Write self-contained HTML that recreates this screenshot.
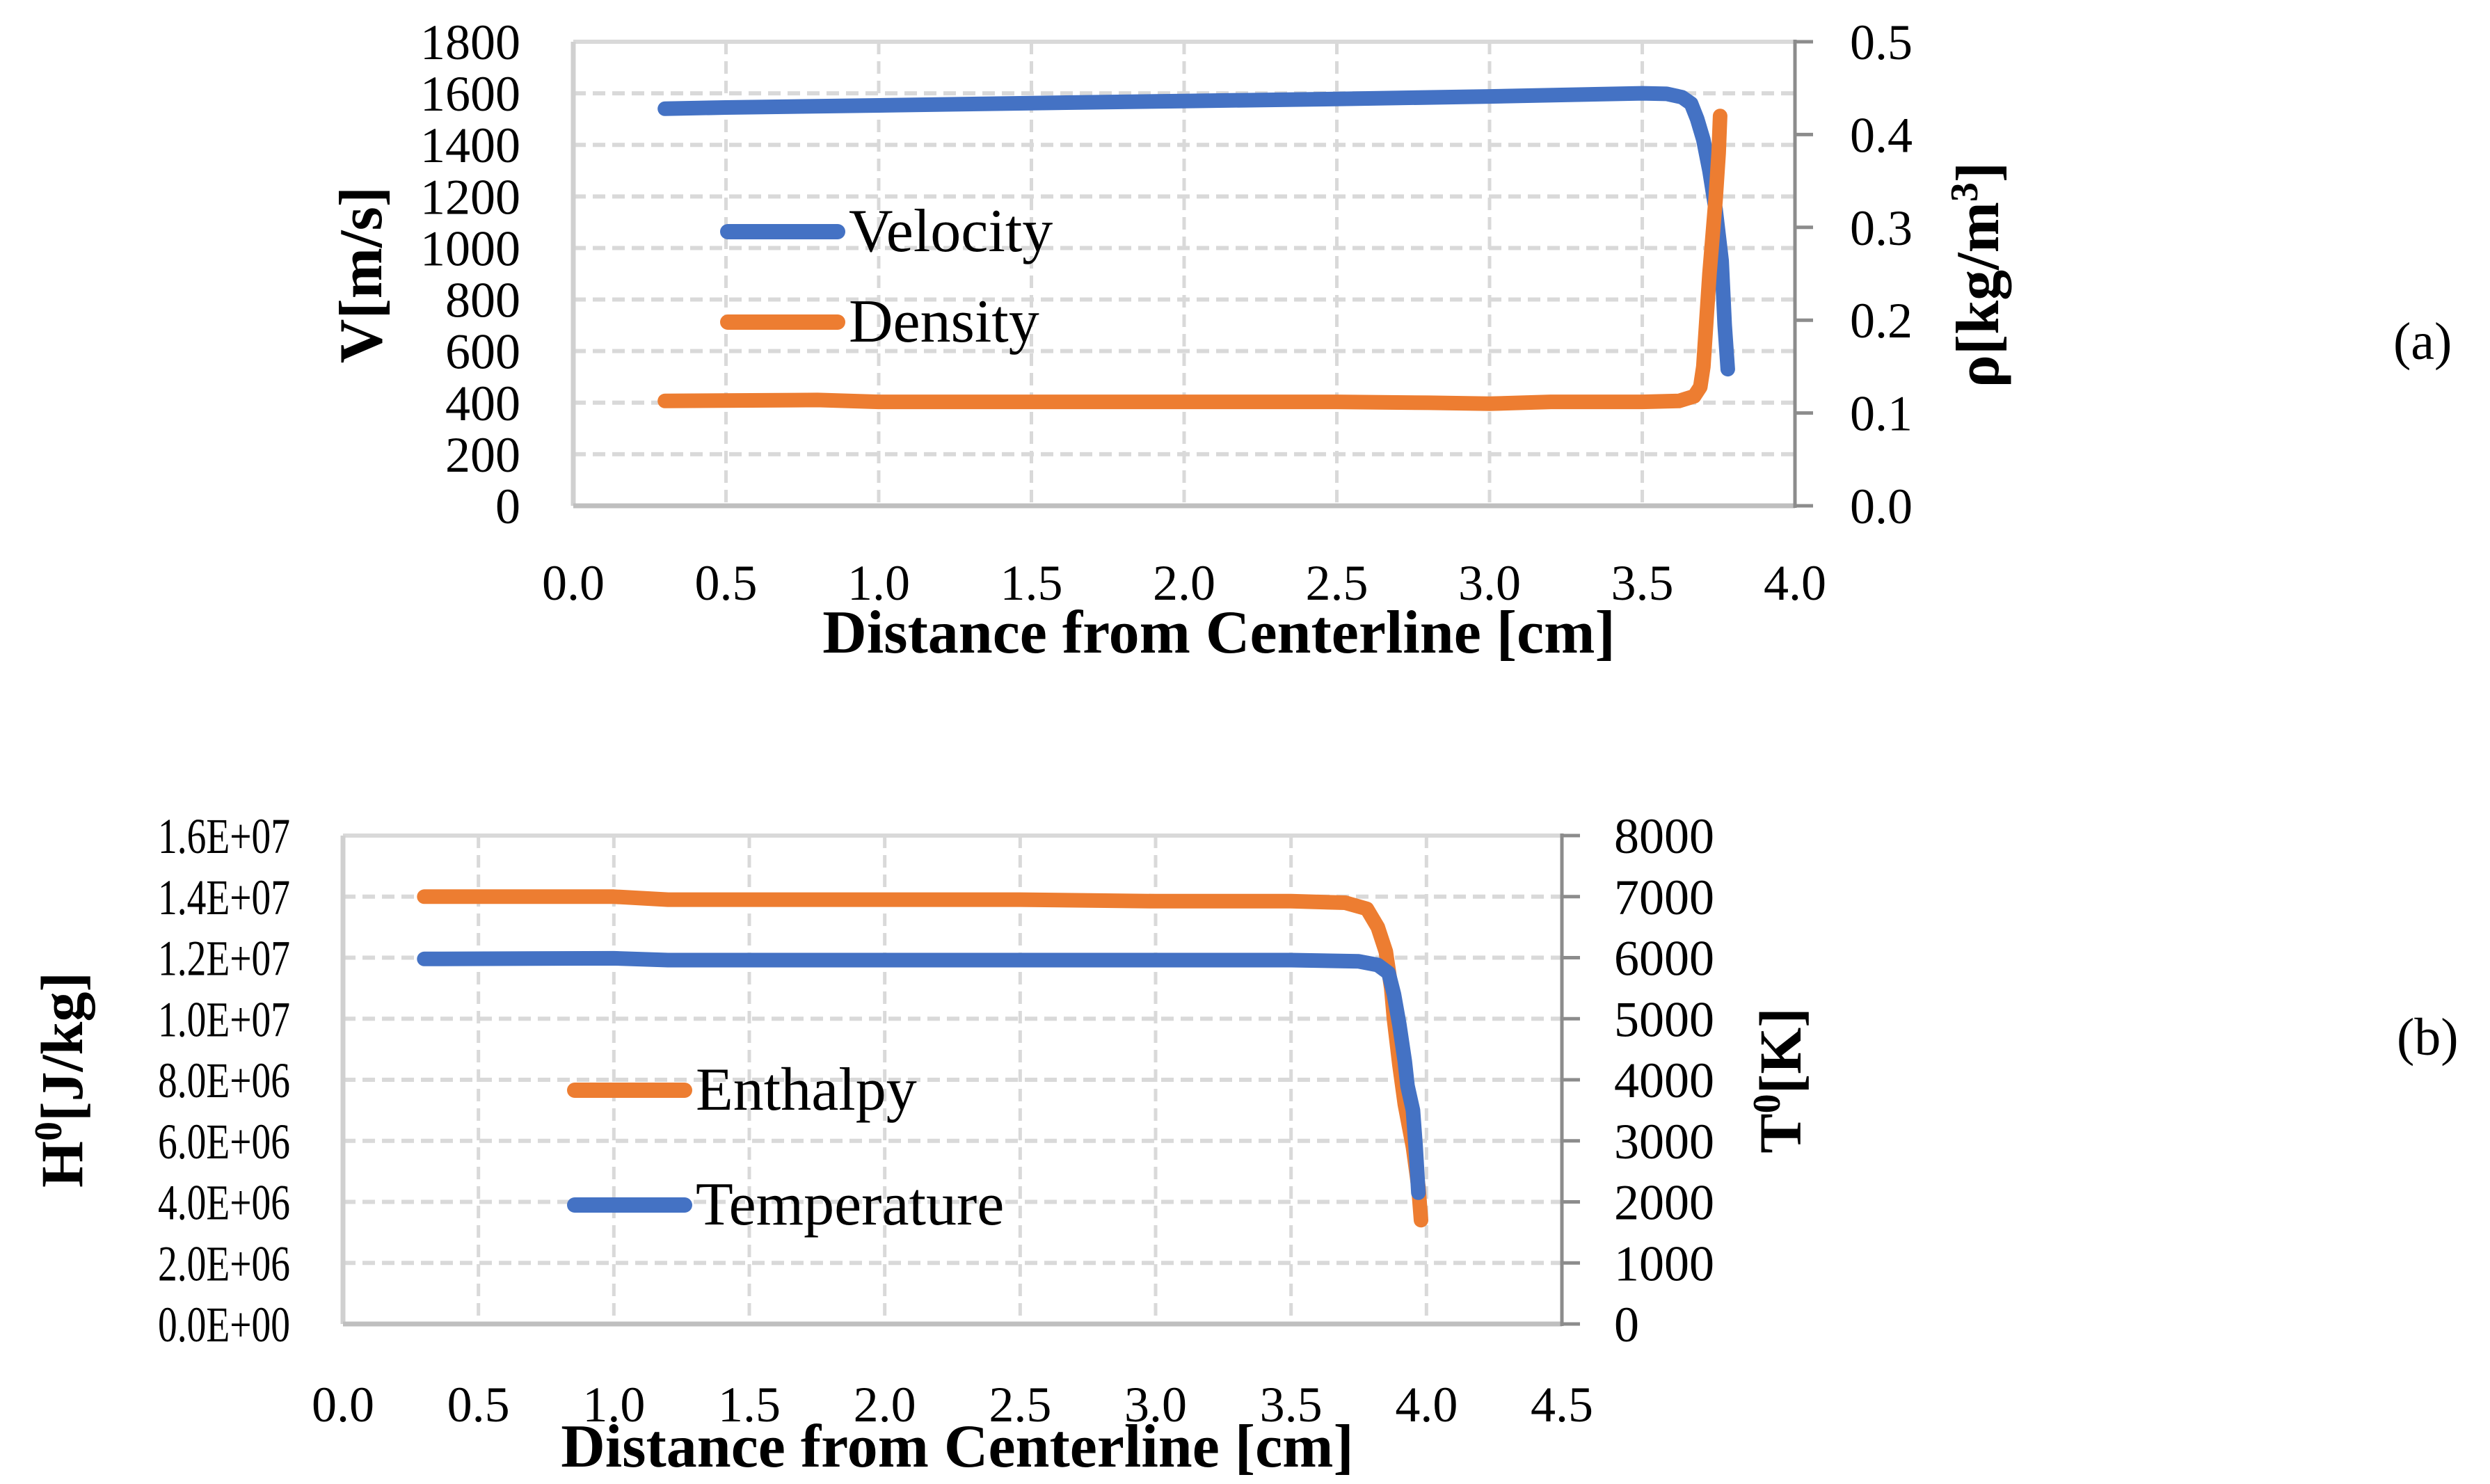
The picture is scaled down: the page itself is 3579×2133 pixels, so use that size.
<!DOCTYPE html>
<html><head><meta charset="utf-8"><style>
body{margin:0;background:#fff}
svg{display:block}
text{font-family:"Liberation Serif",serif;fill:#000}
</style></head><body>
<svg id="s" width="3579" height="2133" viewBox="0 0 3579 2133" xmlns="http://www.w3.org/2000/svg">
<g id="ca"></g>
<g id="cb"></g>
</svg>
<script>
// Chart (a)
const aVelX=[0.3,0.5,1.0,1.5,2.0,2.5,3.0,3.5,3.58,3.63,3.66,3.68,3.70,3.72,3.74,3.76,3.77,3.78];
const aVelY=[1540,1545,1553,1562,1570,1578,1588,1600,1598,1585,1560,1500,1420,1300,1150,950,700,530];
const aDenX=[0.3,0.8,1.0,1.5,2.0,2.5,2.8,3.0,3.2,3.5,3.62,3.67,3.69,3.70,3.71,3.72,3.73,3.74,3.75,3.755];
const aDenY=[0.113,0.114,0.112,0.112,0.112,0.112,0.111,0.110,0.112,0.112,0.113,0.118,0.128,0.15,0.20,0.25,0.29,0.33,0.38,0.42];
const aXTicks=["0.0","0.5","1.0","1.5","2.0","2.5","3.0","3.5","4.0"];
const aYTicks=["0","200","400","600","800","1000","1200","1400","1600","1800"];
const aY2Ticks=["0.0","0.1","0.2","0.3","0.4","0.5"];
// Chart (b)
const bEntX=[0.3,1.0,1.2,2.0,2.5,3.0,3.5,3.7,3.78,3.82,3.85,3.87,3.88,3.90,3.92,3.95,3.97,3.98];
const bEntY=[1.40e7,1.40e7,1.39e7,1.39e7,1.39e7,1.385e7,1.385e7,1.38e7,1.36e7,1.30e7,1.22e7,1.10e7,1.0e7,8.5e6,7.2e6,5.8e6,4.5e6,3.4e6];
const bTmpX=[0.3,1.0,1.2,2.0,2.5,3.0,3.5,3.75,3.82,3.86,3.88,3.90,3.92,3.93,3.95,3.96,3.97];
const bTmpY=[5980,5990,5960,5960,5960,5960,5960,5940,5880,5750,5400,4900,4300,3900,3500,2900,2150];
const bXTicks=["0.0","0.5","1.0","1.5","2.0","2.5","3.0","3.5","4.0","4.5"];
const bYTicks=["0.0E+00","2.0E+06","4.0E+06","6.0E+06","8.0E+06","1.0E+07","1.2E+07","1.4E+07","1.6E+07"];
const bY2Ticks=["0","1000","2000","3000","4000","5000","6000","7000","8000"];

const NS="http://www.w3.org/2000/svg";
function mk(p,tag,attrs,txt){const e=document.createElementNS(NS,tag);for(const k in attrs)e.setAttribute(k,attrs[k]);if(txt!==undefined)e.textContent=txt;p.appendChild(e);return e;}

function chart(g,cfg){
  const {L,R,T,B,xmax,ymax,y2max,xt,yt,y2t}=cfg;
  const sx=v=>L+(R-L)*v/xmax, sy=v=>B-(B-T)*v/ymax, sy2=v=>B-(B-T)*v/y2max;
  for(let i=1;i<yt.length;i++){const y=B-(B-T)*i/(yt.length-1);
    const l=mk(g,'line',{x1:L,x2:R,y1:y,y2:y,stroke:'#d9d9d9','stroke-width':6,'stroke-dasharray':i==yt.length-1?'none':'18 10'});
    
    }
  for(let i=1;i<xt.length-1;i++){const x=L+(R-L)*i/(xt.length-1);
    const l=mk(g,'line',{x1:x,x2:x,y1:T,y2:B,stroke:'#d9d9d9','stroke-width':5,'stroke-dasharray':'18 10'});
    
    }
  const lf=mk(g,'line',{x1:L,x2:L,y1:T,y2:B,stroke:'#d0d0d0','stroke-width':7});
  
  
  const xa=mk(g,'line',{x1:L,x2:R,y1:B,y2:B,stroke:'#bfbfbf','stroke-width':7});
  
  
  const ra=mk(g,'line',{x1:R,x2:R,y1:T-3,y2:B+3,stroke:'#8c8c8c','stroke-width':5});
  
  
  for(let i=0;i<y2t.length;i++){const y=B-(B-T)*i/(y2t.length-1);
    const tk=mk(g,'line',{x1:R,x2:R+26,y1:y,y2:y,stroke:'#8c8c8c','stroke-width':5});
    
    
    const t=mk(g,'text',{x:cfg.y2lx,y:y+25,'font-size':cfg.fs},y2t[i]);
    
    }
  for(let i=0;i<yt.length;i++){const y=B-(B-T)*i/(yt.length-1);
    const at={x:L-76,y:y+25,'font-size':cfg.fs,'text-anchor':'end'};
    if(cfg.ylw){at.textLength=cfg.ylw;at.lengthAdjust='spacingAndGlyphs';}
    const t=mk(g,'text',at,yt[i]);
    
    }
  for(let i=0;i<xt.length;i++){const x=L+(R-L)*i/(xt.length-1);
    const t=mk(g,'text',{x:x,y:cfg.xly,'font-size':cfg.fs,'text-anchor':'middle'},xt[i]);
    
    }
  return {sx,sy,sy2};
}
function series(g,xs,ys,fx,fy,color,name){
  const d=xs.map((x,i)=>(i?'L':'M')+fx(x).toFixed(1)+' '+fy(ys[i]).toFixed(1)).join(' ');
  const p=mk(g,'path',{d:d,fill:'none',stroke:color,'stroke-width':21,'stroke-linecap':'round','stroke-linejoin':'round'});
  
  
}
function legend(g,x1,x2,y,color,label,name){
  const l=mk(g,'line',{x1:x1,x2:x2,y1:y,y2:y,stroke:color,'stroke-width':22,'stroke-linecap':'round'});
  
  
  const t=mk(g,'text',{x:x2+16,y:y+28,'font-size':88},label);
  
  
}
const BLUE='#4472c4',ORANGE='#ed7d31';
// chart a
const ga=document.getElementById('ca');
const A=chart(ga,{L:824,R:2580,T:60,B:727,xmax:4,ymax:1800,y2max:0.5,xt:aXTicks,yt:aYTicks,y2t:aY2Ticks,fs:72,y2lx:2659,xly:862});
series(ga,aVelX,aVelY,A.sx,A.sy,BLUE,'velocity-line');
series(ga,aDenX,aDenY,A.sx,A.sy2,ORANGE,'density-line');
legend(ga,1046,1204,333,BLUE,'Velocity','legend-velocity');
legend(ga,1046,1204,463,ORANGE,'Density','legend-density');
let t;
t=mk(ga,'text',{x:1752,y:938,'font-size':88,'font-weight':'bold','text-anchor':'middle'},'Distance from Centerline [cm]');


t=mk(ga,'text',{transform:'translate(548,395) rotate(-90)','font-size':88,'font-weight':'bold','text-anchor':'middle'},'V[m/s]');


t=mk(ga,'text',{transform:'translate(2872,395) rotate(-90)','font-size':88,'font-weight':'bold','text-anchor':'middle'});
t.innerHTML='ρ[kg/m<tspan dy="-30" font-size="56">3</tspan><tspan dy="30">]</tspan>';


t=mk(ga,'text',{x:3440,y:516,'font-size':76},'(a)');


// chart b
const gb=document.getElementById('cb');
const Bc=chart(gb,{L:493,R:2245,T:1201,B:1903,xmax:4.5,ymax:1.6e7,y2max:8000,xt:bXTicks,yt:bYTicks,y2t:bY2Ticks,fs:72,y2lx:2320,xly:2043,ylw:190});
series(gb,bEntX,bEntY,Bc.sx,Bc.sy,ORANGE,'enthalpy-line');
series(gb,bTmpX,bTmpY,Bc.sx,Bc.sy2,BLUE,'temperature-line');
legend(gb,826,984,1567,ORANGE,'Enthalpy','legend-enthalpy');
legend(gb,826,984,1732,BLUE,'Temperature','legend-temperature');
t=mk(gb,'text',{x:1376,y:2108,'font-size':88,'font-weight':'bold','text-anchor':'middle'},'Distance from Centerline [cm]');


t=mk(gb,'text',{transform:'translate(118,1552) rotate(-90)','font-size':86,'font-weight':'bold','text-anchor':'middle'});
t.innerHTML='H<tspan dy="-30" font-size="56">0</tspan><tspan dy="30">[J/kg]</tspan>';


t=mk(gb,'text',{transform:'translate(2588,1553) rotate(-90)','font-size':86,'font-weight':'bold','text-anchor':'middle'});
t.innerHTML='T<tspan dy="-30" font-size="56">0</tspan><tspan dy="30">[K]</tspan>';


t=mk(gb,'text',{x:3445,y:1516,'font-size':76},'(b)');


</script>
</body></html>
